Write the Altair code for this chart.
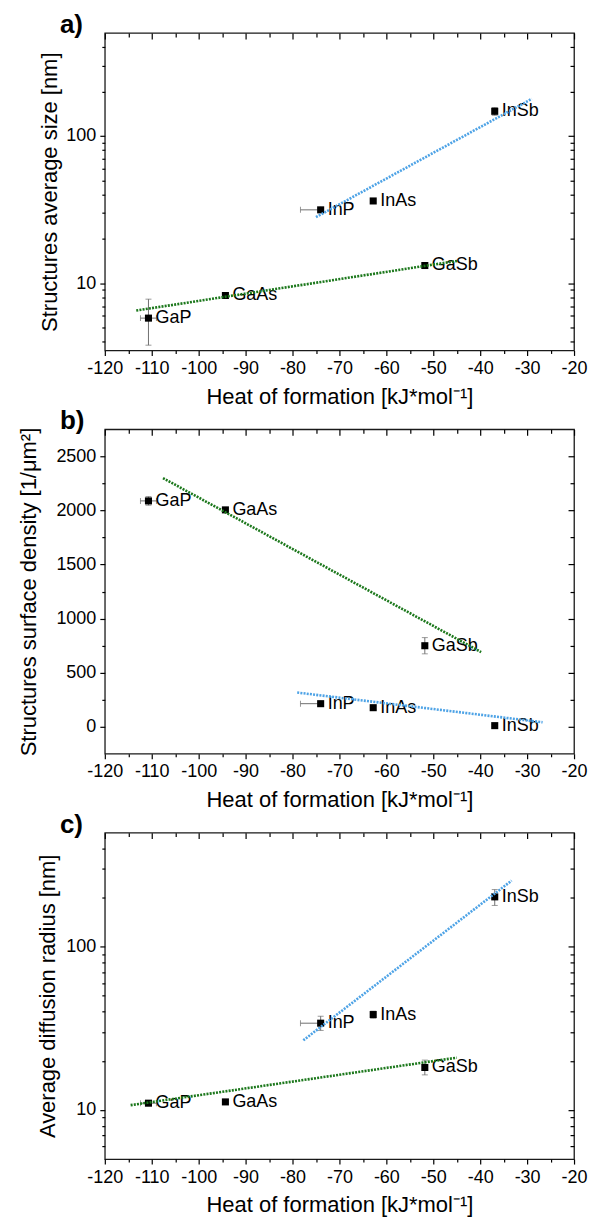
import altair as alt
import pandas as pd

# ---------------------------------------------------------------- data
compounds = ["GaP", "GaAs", "GaSb", "InP", "InAs", "InSb"]
family = ["Ga", "Ga", "Ga", "In", "In", "In"]

# heat of formation [kJ/mol] with its uncertainty range
heat = [-110.7, -94.3, -51.8, -74.0, -62.8, -36.9]
heat_lo = [-112.4, -94.3, -51.8, -78.3, -62.8, -36.9]
heat_hi = [-109.0, -94.3, -51.8, -74.0, -62.8, -36.9]

# a) structures average size [nm]
size_nm = [5.8, 8.26, 13.2, 31.5, 36.2, 147.0]
size_lo = [3.8, 8.1, 12.9, 30.8, 35.4, 138.0]
size_hi = [7.8, 8.4, 13.5, 32.2, 37.0, 156.0]

# b) structures surface density [1/um^2]
density = [2088, 2005, 749, 213, 176, 10]
density_lo = [2048, 1992, 674, 200, 160, 0]
density_hi = [2128, 2018, 824, 226, 192, 20]

# c) average diffusion radius [nm]
radius = [11.0, 11.2, 18.2, 34.0, 38.4, 202.0]
radius_lo = [10.7, 10.9, 16.4, 30.7, 36.5, 179.0]
radius_hi = [11.3, 11.5, 20.2, 37.5, 40.3, 224.0]

# fitted trend lines (start / end of each family's fit)
fit_family = ["Ga", "Ga", "In", "In"]
fit_heat_a = [-113.3, -44.8, -75.0, -29.0]
fit_size = [6.53, 14.2, 28.1, 178.6]
fit_heat_b = [-107.6, -39.8, -79.0, -26.7]
fit_density = [2299, 690, 316, 41]
fit_heat_c = [-114.5, -45.0, -77.7, -33.3]
fit_radius = [10.7, 20.9, 26.7, 254.0]

# axis tick values
x_major = list(range(-120, -19, 10))
x_minor = list(range(-115, -20, 10))
log_major = [10, 100]
log_minor_a = [4, 5, 6, 7, 8, 9, 20, 30, 40, 50, 60, 70, 80, 90, 200, 300, 400]
log_minor_c = [6, 7, 8, 9, 20, 30, 40, 50, 60, 70, 80, 90, 200, 300, 400]
lin_major_b = [0, 500, 1000, 1500, 2000, 2500]
lin_minor_b = [250, 750, 1250, 1750, 2250]

# ---------------------------------------------------------------- style
FONT = "Liberation Sans"
GREEN = "#1c781c"
BLUE = "#4ea3e6"
ERR = "#6f6f6f"
WIDTH = 470
X_TITLE = "Heat of formation [kJ*mol\u207b\u00b9]"
NEG_EXPR = "(datum.value < 0 ? '-' : '') + format(abs(datum.value), 'd')"
INT_EXPR = "format(datum.value, 'd')"

x_scale = alt.Scale(domain=[-120, -20], nice=False, zero=False)


def measurements(values, lo, hi):
    return pd.DataFrame({
        "compound": compounds, "family": family,
        "heat": heat, "heat_lo": heat_lo, "heat_hi": heat_hi,
        "value": values, "value_lo": lo, "value_hi": hi,
    })


def fits(xs, ys):
    return pd.DataFrame({"family": fit_family, "heat": xs, "value": ys})


def panel(letter, data, fit, y_title, y_scale, y_major, y_minor,
          title_x, height, y_label_expr):
    # labelled major ticks point outwards, mirrored ticks on top/right point inwards
    ax_bottom = alt.Axis(orient="bottom", values=x_major, tickSize=5,
                         labelPadding=4, labelExpr=NEG_EXPR, title=X_TITLE,
                         titleX=WIDTH / 2, titleY=46, titleBaseline="middle")
    ax_bottom_minor = alt.Axis(orient="bottom", values=x_minor, tickSize=3,
                               labels=False, title=None)
    ax_top = alt.Axis(orient="top", values=x_major, tickSize=6, offset=-6,
                      labels=False, title=None)
    ax_top_minor = alt.Axis(orient="top", values=x_minor, tickSize=4,
                            offset=-4, labels=False, title=None)

    ax_left = alt.Axis(orient="left", values=y_major, tickSize=5,
                       labelPadding=4, labelExpr=y_label_expr, title=y_title,
                       titleX=title_x, titleY=height / 2,
                       titleBaseline="middle")
    ax_left_minor = alt.Axis(orient="left", values=y_minor, tickSize=3,
                             labels=False, title=None)
    ax_right = alt.Axis(orient="right", values=y_major, tickSize=6,
                        offset=-6, labels=False, title=None)
    ax_right_minor = alt.Axis(orient="right", values=y_minor, tickSize=4,
                              offset=-4, labels=False, title=None)

    def X(field, axis=None):
        return alt.X(f"{field}:Q", scale=x_scale, axis=axis)

    def Y(field, axis=None):
        return alt.Y(f"{field}:Q", scale=y_scale, axis=axis)

    base = alt.Chart(data)

    x_err = base.transform_filter("datum.heat_hi > datum.heat_lo").mark_rule(
        color=ERR, strokeWidth=1
    ).encode(x=X("heat_lo", ax_top_minor), x2="heat_hi:Q",
             y=Y("value", ax_right_minor))

    x_caps = base.transform_filter("datum.heat_hi > datum.heat_lo").transform_fold(
        ["heat_lo", "heat_hi"], as_=["end", "xcap"]
    ).mark_tick(orient="vertical", size=6, thickness=1, color=ERR).encode(
        x=X("xcap"), y=Y("value"))

    y_err = base.transform_filter("datum.value_hi > datum.value_lo").mark_rule(
        color=ERR, strokeWidth=1
    ).encode(x=X("heat"), y=Y("value_lo"), y2="value_hi:Q")

    y_caps = base.transform_filter("datum.value_hi > datum.value_lo").transform_fold(
        ["value_lo", "value_hi"], as_=["end", "ycap"]
    ).mark_tick(orient="horizontal", size=6, thickness=1, color=ERR).encode(
        x=X("heat"), y=Y("ycap"))

    points = base.mark_square(size=50, color="black", opacity=1).encode(
        x=X("heat", ax_bottom), y=Y("value", ax_left))

    labels = base.mark_text(align="left", baseline="middle", dx=7,
                            fontSize=18, font=FONT, color="black").encode(
        x=X("heat", ax_top), y=Y("value", ax_right), text="compound:N")

    trend = alt.Chart(fit).mark_line(strokeDash=[2, 1.2], strokeWidth=2.6).encode(
        x=X("heat", ax_bottom_minor), y=Y("value", ax_left_minor),
        color=alt.Color("family:N", legend=None,
                        scale=alt.Scale(domain=["Ga", "In"], range=[GREEN, BLUE])),
        detail="family:N")

    tag = alt.Chart(pd.DataFrame({"tag": [letter]})).mark_text(
        align="left", baseline="alphabetic", fontSize=26, fontWeight="bold",
        font=FONT, color="black"
    ).encode(x=alt.value(-45), y=alt.value(0), text="tag:N")

    return alt.layer(x_err, x_caps, y_err, y_caps, points, labels, trend, tag).resolve_axis(
        x="independent", y="independent"
    ).properties(width=WIDTH, height=height)


panel_a = panel(
    "a)", measurements(size_nm, size_lo, size_hi), fits(fit_heat_a, fit_size),
    "Structures average size [nm]",
    alt.Scale(type="log", domain=[3.5, 500], nice=False),
    log_major, log_minor_a, -55, 318, INT_EXPR)

panel_b = panel(
    "b)", measurements(density, density_lo, density_hi), fits(fit_heat_b, fit_density),
    "Structures surface density [1/\u03bcm\u00b2]",
    alt.Scale(domain=[-250, 2750], nice=False, zero=False),
    lin_major_b, lin_minor_b, -76, 325, INT_EXPR)

panel_c = panel(
    "c)", measurements(radius, radius_lo, radius_hi), fits(fit_heat_c, fit_radius),
    "Average diffusion radius [nm]",
    alt.Scale(type="log", domain=[5, 500], nice=False),
    log_major, log_minor_c, -57, 327, INT_EXPR)

chart = alt.vconcat(panel_a, panel_b, panel_c, spacing=79, bounds="flush").properties(
    padding={"left": 17, "top": 10, "right": 5, "bottom": 5}
).configure(font=FONT).configure_view(
    stroke="#1a1a1a", strokeWidth=1.3
).configure_axis(
    grid=False, domain=False, labelFont=FONT, labelFontSize=18,
    labelColor="black", titleFont=FONT, titleFontSize=22,
    titleFontWeight="normal", titleColor="black", tickColor="black",
    tickWidth=1.2, labelFlush=False, labelOverlap=False,
)

chart.save("out.html", embed_options={"renderer": "svg", "actions": False})
